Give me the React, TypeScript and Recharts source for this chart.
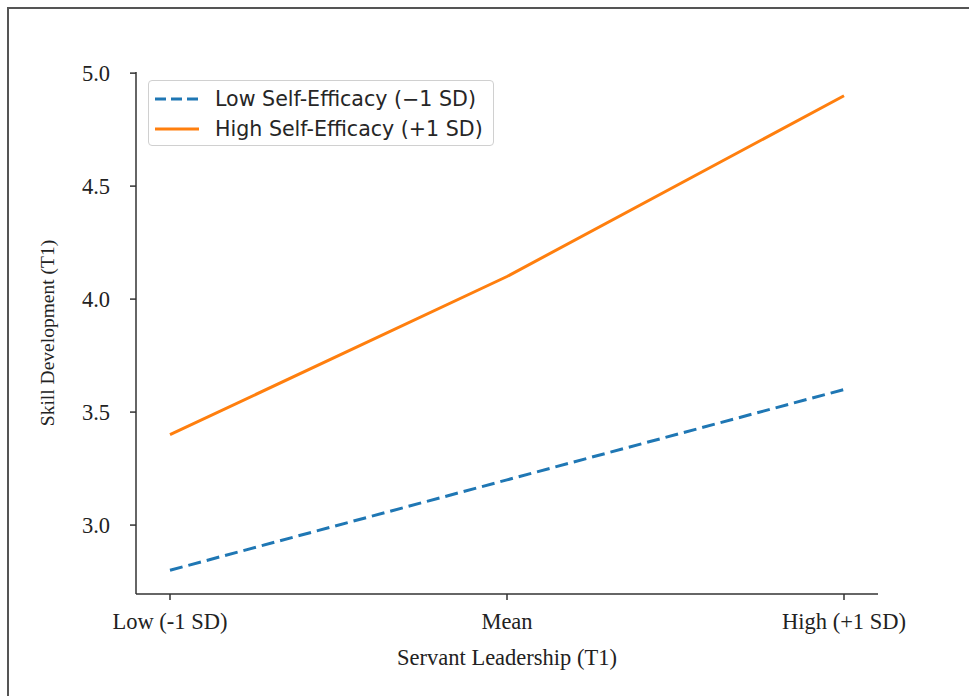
import { LineChart, Line, XAxis, YAxis } from 'recharts';

const categories = ['Low (-1 SD)', 'Mean', 'High (+1 SD)'];
const lowSelfEfficacy = [2.8, 3.2, 3.6];
const highSelfEfficacy = [3.4, 4.1, 4.9];
const yTicks = [3.0, 3.5, 4.0, 4.5, 5.0];

const seriesInfo = [
  { key: 'low', name: 'Low Self-Efficacy (\u22121 SD)', color: '#1f77b4', dash: '13 6' },
  { key: 'high', name: 'High Self-Efficacy (+1 SD)', color: '#ff7f0e', dash: undefined },
];

const data = categories.map((c, i) => ({
  name: c,
  low: lowSelfEfficacy[i],
  high: highSelfEfficacy[i],
}));

const serif = '"Liberation Serif", "Times New Roman", serif';
const sans = '"DejaVu Sans", sans-serif';
const axisColor = '#333';

export default function App() {
  return (
    <div style={{ position: 'absolute', left: 0, top: 0, width: 969, height: 696, background: '#fff', overflow: 'hidden' }}>
      {/* outer frame, only left/top edges visible */}
      <div style={{ position: 'absolute', left: 7, top: 7, right: -10, bottom: -10, borderLeft: '2px solid #555', borderTop: '2px solid #555' }} />
      <LineChart width={969} height={696} data={data} margin={{ top: 72, right: 91, bottom: 52, left: 36 }}>
        <XAxis
          dataKey="name"
          padding={{ left: 34, right: 34 }}
          height={50}
          stroke={axisColor}
          strokeWidth={1.5}
          tickSize={6}
          tickMargin={13}
          tick={{ fill: '#222', fontSize: 22.5, fontFamily: serif }}
          label={{ value: 'Servant Leadership (T1)', position: 'bottom', offset: 5, fill: '#222', fontSize: 22.5, fontFamily: serif }}
        />
        <YAxis
          type="number"
          domain={[2.695, 5.005]}
          ticks={yTicks}
          allowDataOverflow
          width={100}
          stroke={axisColor}
          strokeWidth={1.5}
          tickSize={6}
          tickMargin={20}
          tickFormatter={(v: number) => v.toFixed(1)}
          tick={{ fill: '#222', fontSize: 22.5, fontFamily: serif }}
          label={{ value: 'Skill Development (T1)', angle: -90, position: 'insideLeft', offset: 11, fill: '#222', fontSize: 19.5, fontFamily: serif, style: { textAnchor: 'middle' } }}
        />
        {seriesInfo.map((s) => (
          <Line
            key={s.key}
            dataKey={s.key}
            name={s.name}
            type="linear"
            stroke={s.color}
            strokeWidth={3}
            strokeDasharray={s.dash}
            dot={false}
            activeDot={false}
            isAnimationActive={false}
          />
        ))}
      </LineChart>
      {/* legend */}
      <div style={{ position: 'absolute', left: 148, top: 80, width: 344, height: 64, border: '1px solid #d0d0d0', borderRadius: 4, background: 'rgba(255,255,255,0.8)', fontFamily: sans, fontSize: 20.6, color: '#262626' }}>
        {seriesInfo.map((s, i) => (
          <div key={s.key} style={{ position: 'absolute', left: 6, top: 5 + i * 30, height: 26, display: 'flex', alignItems: 'center', whiteSpace: 'nowrap' }}>
            <svg width={44} height={6} style={{ marginRight: 16 }}>
              <line x1={0} y1={3} x2={44} y2={3} stroke={s.color} strokeWidth={3} strokeDasharray={s.dash ? '11 5' : undefined} />
            </svg>
            <span>{s.name}</span>
          </div>
        ))}
      </div>
    </div>
  );
}
